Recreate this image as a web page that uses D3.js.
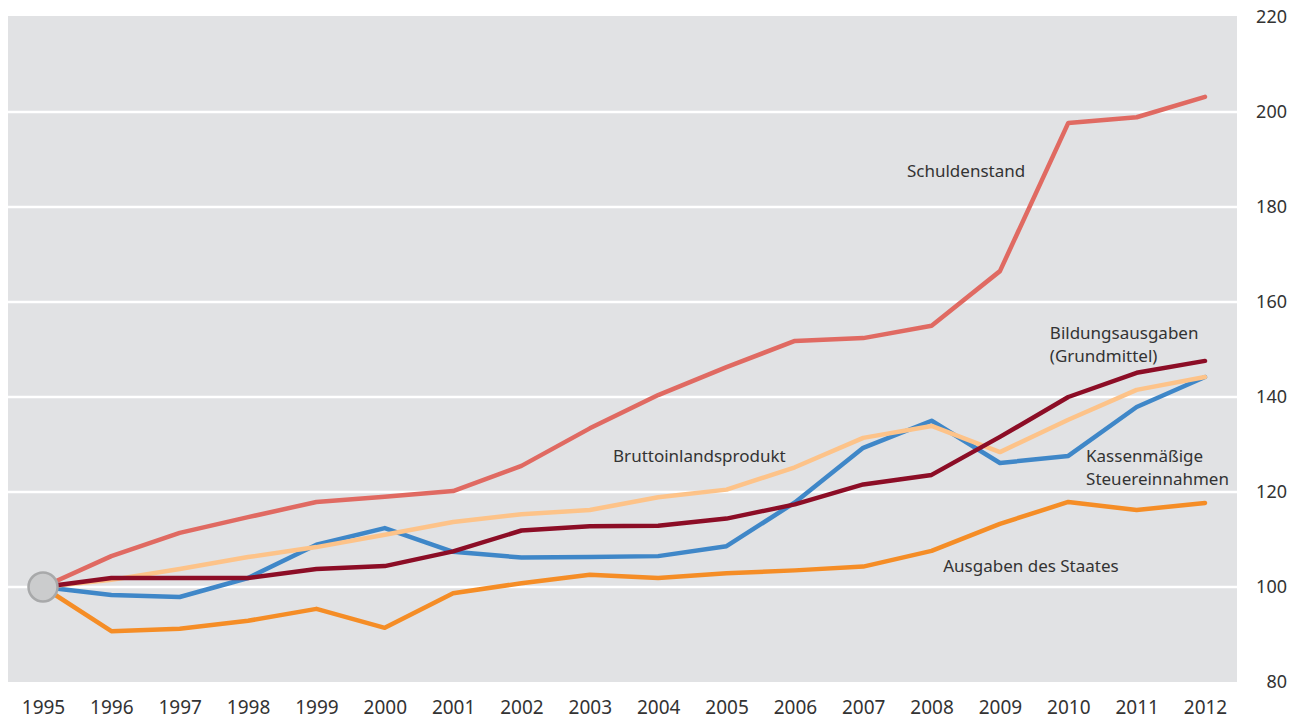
<!DOCTYPE html>
<html>
<head>
<meta charset="utf-8">
<script src="https://cdn.jsdelivr.net/npm/d3@7"></script>
<style>
  html, body { margin: 0; padding: 0; background: #ffffff; }
  svg { display: block; }
</style>
</head>
<body>
<svg id="chart" width="1292" height="720"></svg>
<script>
const years = [1995,1996,1997,1998,1999,2000,2001,2002,2003,2004,2005,2006,2007,2008,2009,2010,2011,2012];
const yTicks = [80,100,120,140,160,180,200,220];

const schuldenstand      = [100,106.5,111.4,114.7,117.9,119.0,120.2,125.5,133.4,140.4,146.3,151.8,152.4,155.0,166.5,197.7,198.9,203.2];
const ausgabenStaat      = [100,90.7,91.2,92.9,95.4,91.4,98.7,100.8,102.6,101.9,102.9,103.5,104.3,107.6,113.3,117.9,116.2,117.7];
const steuereinnahmen    = [100,98.3,97.9,101.9,108.9,112.4,107.4,106.2,106.3,106.5,108.6,117.8,129.3,135.0,126.1,127.6,137.9,144.2];
const bip                = [100,101.5,103.8,106.3,108.4,111.0,113.7,115.3,116.2,118.9,120.5,125.2,131.4,133.9,128.4,135.2,141.5,144.2];
const bildungsausgaben   = [100,101.9,101.9,101.9,103.8,104.4,107.5,111.9,112.8,112.9,114.4,117.4,121.6,123.6,131.6,140.0,145.1,147.6];

const seriesNames  = ["Schuldenstand","Ausgaben des Staates","Kassenmäßige Steuereinnahmen","Bruttoinlandsprodukt","Bildungsausgaben (Grundmittel)"];
const seriesValues = [schuldenstand, ausgabenStaat, steuereinnahmen, bip, bildungsausgaben];
const seriesColors = ["#e06a62","#f58d26","#3f87c8","#fdc389","#8c0d26"];

const svg = d3.select("#chart");
const font = "'Noto Sans', 'Open Sans', sans-serif";

const x = d3.scaleLinear().domain([1995, 2012]).range([43, 1205]);
const y = d3.scaleLinear().domain([80, 220]).range([682, 17]);

// plot background
svg.append("rect")
  .attr("x", 8).attr("y", 16)
  .attr("width", 1229).attr("height", 666)
  .attr("fill", "#e1e2e4");

// gridlines
svg.append("g")
  .selectAll("line")
  .data(yTicks.filter(t => t > 80 && t < 220))
  .join("line")
  .attr("x1", 8).attr("x2", 1237)
  .attr("y1", d => y(d)).attr("y2", d => y(d))
  .attr("stroke", "#ffffff").attr("stroke-width", 2.5);

// right axis
const yAxis = d3.axisRight(y).tickValues(yTicks).tickSize(0).tickPadding(0);
const gy = svg.append("g").attr("transform", "translate(1287,0)").call(yAxis);
gy.select(".domain").remove();
gy.selectAll("text")
  .attr("text-anchor", "end")
  .attr("font-family", font)
  .attr("font-size", 18)
  .attr("fill", "#333333");

// bottom axis
const xAxis = d3.axisBottom(x).tickValues(years).tickFormat(d3.format("d")).tickSize(0).tickPadding(0);
const gx = svg.append("g").attr("transform", "translate(0,700)").call(xAxis);
gx.select(".domain").remove();
gx.selectAll("text")
  .attr("font-family", font)
  .attr("font-size", 19)
  .attr("fill", "#333333");

// lines
const line = d3.line().x((d, i) => x(years[i])).y(d => y(d));
svg.append("g")
  .selectAll("path")
  .data(seriesValues)
  .join("path")
  .attr("d", d => line(d))
  .attr("fill", "none")
  .attr("stroke", (d, i) => seriesColors[i])
  .attr("stroke-width", 4.5)
  .attr("stroke-linejoin", "round")
  .attr("stroke-linecap", "round");

// base circle
svg.append("circle")
  .attr("cx", x(1995)).attr("cy", y(100))
  .attr("r", 14.5)
  .attr("fill", "#cbcccd")
  .attr("stroke", "#a8a9aa")
  .attr("stroke-width", 2.5);

// labels (anchor in data units: year, value of first baseline)
const labels = [
  { lines: ["Schuldenstand"], year: 2007.64, value: 186.3 },
  { lines: ["Bildungsausgaben", "(Grundmittel)"], year: 2009.73, value: 152.2 },
  { lines: ["Bruttoinlandsprodukt"], year: 2003.34, value: 126.3 },
  { lines: ["Kassenmäßige", "Steuereinnahmen"], year: 2010.26, value: 126.3 },
  { lines: ["Ausgaben des Staates"], year: 2008.17, value: 103.2 }
];
const lg = svg.append("g");
labels.forEach(l => {
  const t = lg.append("text")
    .attr("x", x(l.year))
    .attr("y", y(l.value))
    .attr("font-family", font)
    .attr("font-size", 17)
    .attr("fill", "#333333");
  l.lines.forEach((s, i) => {
    t.append("tspan").attr("x", x(l.year)).attr("dy", i === 0 ? 0 : 23).text(s);
  });
});
</script>
</body>
</html>
